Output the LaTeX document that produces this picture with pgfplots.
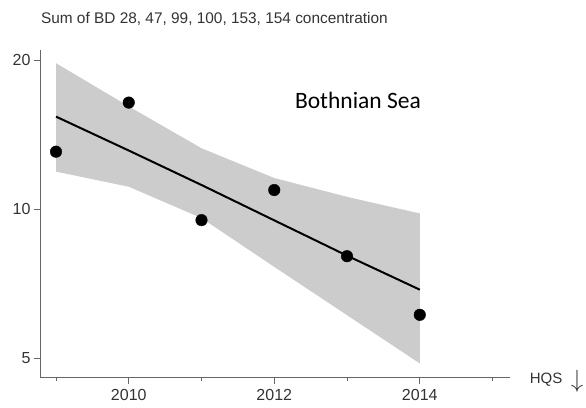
\documentclass[border=0pt]{standalone}
\usepackage{pgfplots}
\pgfplotsset{compat=1.18}
\usepackage{fontspec}
\setmainfont{Liberation Sans}
\newfontfamily\carlito{Carlito}
\definecolor{bandgray}{HTML}{CCCCCC}
\definecolor{axgray}{HTML}{666666}
\definecolor{txtgray}{HTML}{333333}
\begin{document}
\begin{tikzpicture}[x=1pt,y=1pt]
\useasboundingbox (0,0) rectangle (586,407);
\begin{axis}[
  at={(40pt,29pt)}, anchor=south west,
  scale only axis, width=470pt, height=328pt,
  xmin=2008.78, xmax=2015.24,
  ymode=log, ymin=4.56, ymax=21.0,
  axis x line*=bottom, axis y line*=left,
  axis line style={axgray, line width=1pt},
  every tick/.style={axgray, line width=1pt},
  tick align=outside,
  major tick length=6pt, minor tick length=3pt,
  xtick={2010,2012,2014}, minor xtick={2009,2011,2013,2015},
  ytick={5,10,20}, yticklabels={5,10,20},
  x tick label style={/pgf/number format/1000 sep={}, font=\fontsize{16}{16}\selectfont, text=txtgray, yshift=-2pt},
  y tick label style={font=\fontsize{16}{16}\selectfont, text=txtgray},
  /pgf/number format/assume math mode=true,
  clip=false,
]
\addplot[fill=bandgray, draw=none] coordinates {
  (2009,19.75) (2010,16.15) (2011,13.29) (2012,11.57) (2013,10.60) (2014,9.81)
  (2014,4.88) (2013,6.11) (2012,7.65) (2011,9.60) (2010,11.11) (2009,11.92)
} -- cycle;
\addplot[black, line width=2pt] coordinates {
  (2009,15.40) (2010,13.15) (2011,11.2) (2012,9.50) (2013,8.06) (2014,6.88)
};
\addplot[only marks, mark=*, mark size=5.8pt, black] coordinates {
  (2009,13.08) (2010,16.44) (2011,9.51) (2012,10.94) (2013,8.04) (2014,6.12)
};
\node[font=\carlito\fontsize{23.5}{23.5}\selectfont, text=black] at (axis cs:2013.15,16.6) {Bothnian Sea};
\end{axis}
\node[anchor=west, font=\fontsize{15.4}{15.4}\selectfont, text=txtgray] at (37.5,388) {Sum of BD 28, 47, 99, 100, 153, 154 concentration};
\node[font=\fontsize{15}{15}\selectfont, text=txtgray] at (546,27) {HQS};
\node[text=txtgray] at (577,26) {\fontsize{26}{26}\selectfont$\downarrow$};
\end{tikzpicture}
\end{document}
